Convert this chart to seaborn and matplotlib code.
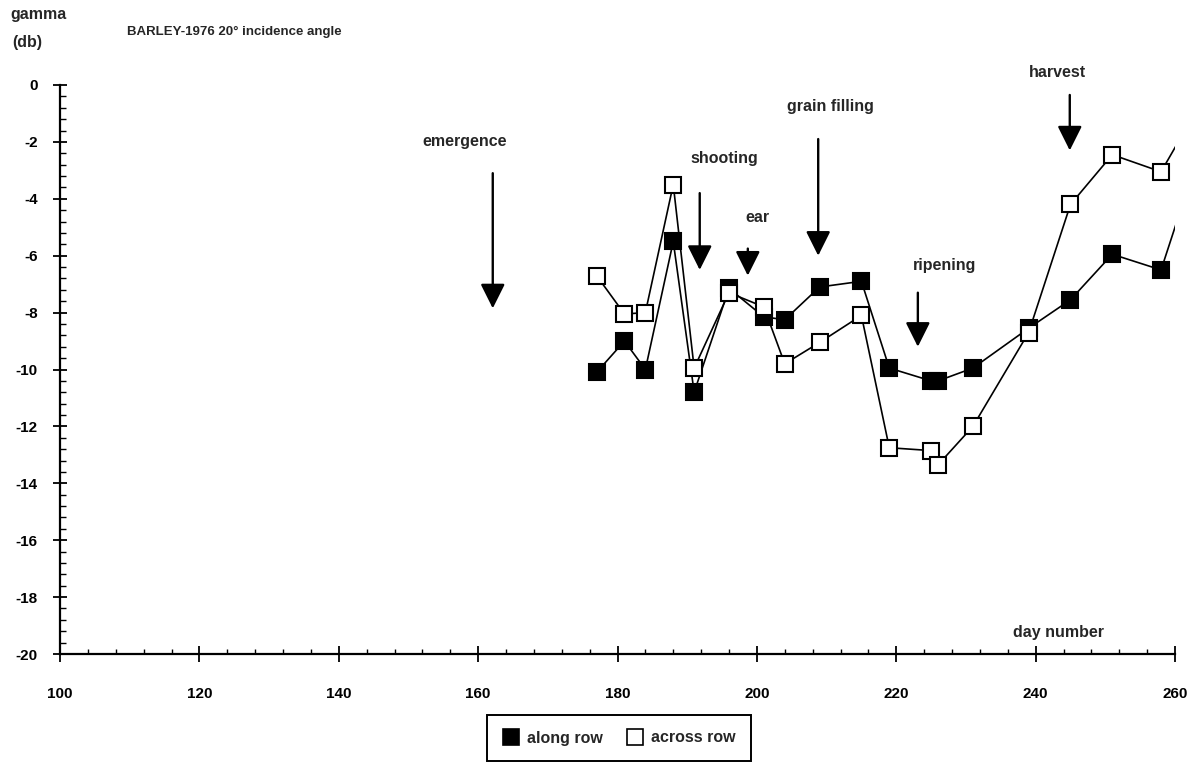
import matplotlib
matplotlib.use("Agg")
import matplotlib.pyplot as plt
import seaborn as sns
from matplotlib.lines import Line2D
from matplotlib.ticker import MultipleLocator, FuncFormatter

# Backscatter gamma (dB) of barley, 1976, 20 deg incidence
day_along = [177, 181, 184, 188, 191, 196, 201, 204, 209, 215, 219, 225, 226,
             231, 239, 245, 251, 258, 262]
gamma_along = [-10.1, -9.0, -10.0, -5.5, -10.8, -7.15, -8.15, -8.25, -7.1,
               -6.9, -9.95, -10.4, -10.4, -9.95, -8.55, -7.55, -5.95, -6.5,
               -3.5]
day_across = [177, 181, 184, 188, 191, 196, 201, 204, 209, 215, 219, 225, 226,
              231, 239, 245, 251, 258, 262]
gamma_across = [-6.7, -8.05, -8.0, -3.5, -9.95, -7.3, -7.8, -9.8, -9.05,
                -8.1, -12.75, -12.85, -13.35, -12.0, -8.7, -4.2, -2.45, -3.05,
                -1.35]

# Growth stages marked with arrows
stage_names = ["emergence", "shooting", "ear", "grain filling", "ripening",
               "harvest"]
stage_days = [162.1, 191.8, 198.7, 208.8, 223.1, 244.9]
arrow_top = [-3.1, -3.8, -5.75, -1.9, -7.3, -0.35]
arrow_tip = [-7.85, -6.5, -6.7, -6.0, -9.2, -2.3]
label_x = [158.1, 195.4, 200.1, 210.5, 227.0, 243.2]
label_y = [-2.0, -2.6, -4.65, -0.75, -6.35, 0.45]

x_ticks = [100, 120, 140, 160, 180, 200, 220, 240, 260]
y_ticks = [0, -2, -4, -6, -8, -10, -12, -14, -16, -18, -20]

sns.set_style("ticks")
plt.rcParams["font.family"] = ["Liberation Sans", "DejaVu Sans"]
plt.rcParams["font.weight"] = "bold"
plt.rcParams["axes.unicode_minus"] = False

fig = plt.figure(figsize=(12.02, 7.67), dpi=100)
ax = fig.add_axes([60 / 1202, 1 - 654 / 767, 1115 / 1202, 569 / 767])

line_kw = dict(color="black", lw=1.2, marker="s", markersize=12,
               markeredgecolor="black", markeredgewidth=1.5,
               estimator=None, sort=False)
sns.lineplot(x=day_along, y=gamma_along, ax=ax, markerfacecolor="black",
             **line_kw)
sns.lineplot(x=day_across, y=gamma_across, ax=ax, markerfacecolor="white",
             **line_kw)

ax.set_xlim(100, 260)
ax.set_ylim(-20, 0)
ax.set_xticks(x_ticks)
ax.set_yticks(y_ticks)
ax.xaxis.set_minor_locator(MultipleLocator(4))
ax.yaxis.set_minor_locator(MultipleLocator(0.4))
ax.yaxis.set_major_formatter(FuncFormatter(lambda v, p: f"{v:.0f}"))
ax.xaxis.set_major_formatter(FuncFormatter(lambda v, p: f"{v:.0f}"))

for side in ("top", "right"):
    ax.spines[side].set_visible(False)
for side in ("left", "bottom"):
    ax.spines[side].set_linewidth(1.6)
    ax.spines[side].set_color("black")

ax.tick_params(axis="x", which="major", direction="inout", length=11,
               width=1.3, pad=18, labelsize=11, colors="black")
ax.tick_params(axis="x", which="minor", direction="in", length=3.5,
               width=1.0, colors="black")
ax.tick_params(axis="y", which="major", direction="inout", length=10,
               width=1.3, pad=11, labelsize=11, colors="black")
ax.tick_params(axis="y", which="minor", direction="in", length=4,
               width=1.0, colors="black")
ax.set_xlabel("")
ax.set_ylabel("")

arrow_style = dict(arrowstyle="-|>,head_length=0.6,head_width=0.3",
                   mutation_scale=25, color="black", lw=1.7,
                   shrinkA=0, shrinkB=0)
for name, d, top, tip, lx, ly in zip(stage_names, stage_days, arrow_top,
                                     arrow_tip, label_x, label_y):
    ax.annotate("", xy=(d, tip), xytext=(d, top), arrowprops=arrow_style,
                annotation_clip=False)
    ax.text(lx, ly, name, ha="center", va="center", fontsize=11.5,
            fontweight="bold", clip_on=False)

ax.text(243.3, -19.25, "day number", ha="center", va="center",
        fontsize=11.5, fontweight="bold")

fig.text(10 / 1202, 1 - 15 / 767, "gamma", ha="left", va="center",
         fontsize=11.5, fontweight="bold")
fig.text(12 / 1202, 1 - 42 / 767, "(db)", ha="left", va="center",
         fontsize=11.5, fontweight="bold")
fig.text(127 / 1202, 1 - 32 / 767, "BARLEY-1976 20\u00b0 incidence angle",
         ha="left", va="center", fontsize=9.5, fontweight="bold")

handles = [
    Line2D([], [], ls="none", marker="s", markersize=11, color="black",
           markerfacecolor="black", markeredgewidth=1.2),
    Line2D([], [], ls="none", marker="s", markersize=11, color="black",
           markerfacecolor="white", markeredgewidth=1.2),
]
leg = ax.legend(handles, ["along row", "across row"], loc="center",
                bbox_to_anchor=(619 / 1202, 1 - 738 / 767),
                bbox_transform=fig.transFigure, ncol=2, frameon=True,
                fancybox=False, edgecolor="black", framealpha=1,
                fontsize=11.5, handlelength=1.0, handletextpad=0.5,
                columnspacing=1.5, borderpad=1.0)
leg.get_frame().set_linewidth(1.4)

fig.savefig("out.png", dpi=100, facecolor="white")
